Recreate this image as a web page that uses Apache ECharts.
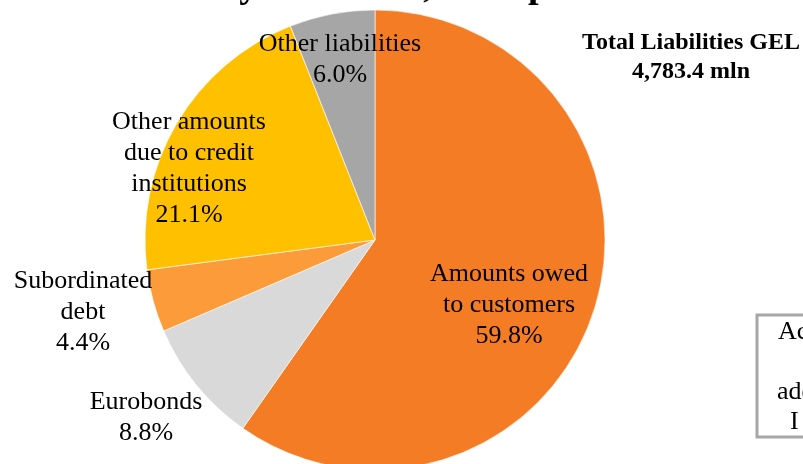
<!DOCTYPE html>
<html>
<head>
<meta charset="utf-8">
<script src="https://cdn.jsdelivr.net/npm/echarts@6/dist/echarts.min.js"></script>
<style>
  html, body { margin: 0; padding: 0; background: #fff; }
  #liab-chart { width: 803px; height: 464px; }
</style>
</head>
<body>
<div id="liab-chart"></div>
<script>
// slices, clockwise from 12 o'clock
const categories = [
  'Amounts owed to customers',
  'Eurobonds',
  'Subordinated debt',
  'Other amounts due to credit institutions',
  'Other liabilities',
];
const shares = [59.8, 8.8, 4.4, 21.1, 6.0];
// how each label is broken into lines
const labelLines = [
  ['Amounts owed', 'to customers'],
  ['Eurobonds'],
  ['Subordinated', 'debt'],
  ['Other amounts', 'due to credit', 'institutions'],
  ['Other liabilities'],
];
const totalLines = ['Total Liabilities GEL', '4,783.4 mln'];

const colors = ['#F47C24', '#D9D9D9', '#FB9B3A', '#FFC000', '#A6A6A6'];
// label centres (Excel had them dragged by hand)
const labelPos = [[509, 305], [146, 418], [83, 312], [189, 169], [340, 60]];

const serif = '"Liberation Serif", "Times New Roman", serif';

const chart = echarts.init(document.getElementById('liab-chart'));

const option = {
  animation: false,
  color: colors,
  graphic: [
    {
      // title is cut off by the crop, only descenders show
      type: 'text',
      x: 334,
      y: -32,
      style: {
        text: 'Liability Structure, Group',
        font: 'bold 38px ' + serif,
        align: 'center',
        fill: '#000',
      },
    },
    {
      type: 'text',
      x: 691,
      y: 28,
      style: {
        text: totalLines.join('\n'),
        font: 'bold 24px ' + serif,
        lineHeight: 29,
        align: 'center',
        fill: '#000',
      },
    },
    {
      type: 'rect',
      shape: { x: 757, y: 315, width: 120, height: 122 },
      style: { fill: '#fff', stroke: '#A6A6A6', lineWidth: 3 },
    },
    {
      type: 'text',
      x: 778,
      y: 319,
      style: { text: 'Accrued', font: '26px ' + serif, fill: '#000' },
    },
    {
      type: 'text',
      x: 777,
      y: 379,
      style: { text: 'additional', font: '26px ' + serif, fill: '#000' },
    },
    {
      type: 'text',
      x: 790,
      y: 409,
      style: { text: 'I', font: '26px ' + serif, fill: '#000' },
    },
  ],
  series: [
    {
      type: 'pie',
      center: [375, 240],
      radius: 230,
      startAngle: 90,
      clockwise: true,
      silent: true,
      itemStyle: { borderColor: '#fff', borderWidth: 0.6 },
      label: {
        show: true,
        position: 'inside',
        color: '#000',
        fontFamily: serif,
        fontSize: 26,
        lineHeight: 31,
        align: 'center',
        formatter: (p) => labelLines[p.dataIndex].concat([p.value.toFixed(1) + '%']).join('\n'),
      },
      labelLine: { show: false },
      labelLayout: (p) => ({
        x: labelPos[p.dataIndex][0],
        y: labelPos[p.dataIndex][1],
        align: 'center',
        verticalAlign: 'middle',
      }),
      data: categories.map((name, i) => ({ name, value: shares[i] })),
    },
  ],
};

chart.setOption(option);
</script>
</body>
</html>
